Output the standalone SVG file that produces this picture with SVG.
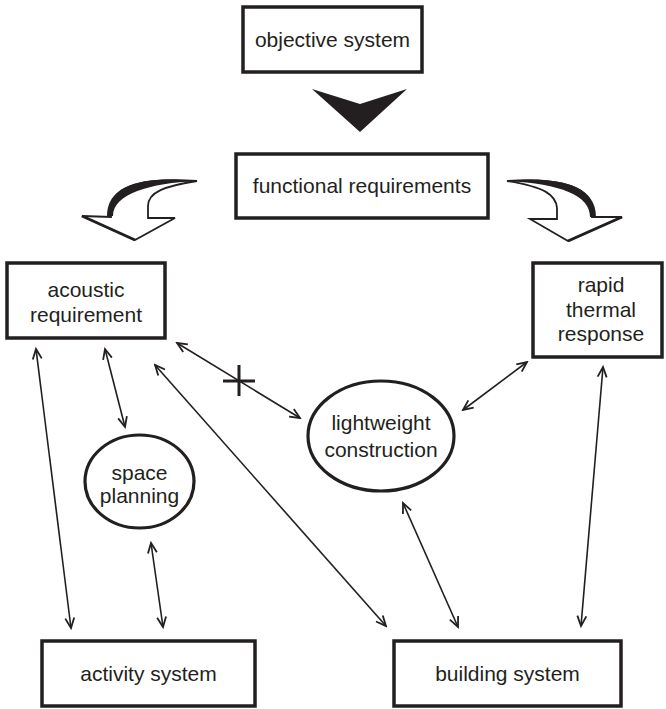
<svg xmlns="http://www.w3.org/2000/svg" width="666" height="709" viewBox="0 0 666 709">
<style>
.box{fill:#fff;stroke:#231f20;stroke-width:3.5}
.ell{fill:#fff;stroke:#231f20;stroke-width:3.2}
.t{font-family:"Liberation Sans",Arial,sans-serif;font-size:21px;fill:#231f20;text-anchor:middle}
.c{stroke:#231f20;stroke-width:1.6;fill:none;marker-start:url(#ah);marker-end:url(#ah)}
.big{fill:#fff;stroke:#231f20;stroke-width:1.8;stroke-linejoin:miter}
</style>
<defs>
<marker id="ah" markerUnits="userSpaceOnUse" markerWidth="14" markerHeight="12" viewBox="-12 -6 14 12" refX="0" refY="0" orient="auto-start-reverse">
<path d="M-10,-4.5 L0,0 L-10,4.5" fill="none" stroke="#231f20" stroke-width="1.8"/>
</marker>
</defs>
<rect width="666" height="709" fill="#fff"/>
<g id="big-arrows">
<polygon points="312,89 360,104 407,89 360,132" fill="#231f20"/>
<path class="big" d="M197,181 C150,178 111,183 111,210 L111,217 L82,216 L135,240 L175,218 L148,218 L148,206 C148,192 165,186 197,181 Z"/>
<path d="M197,181 C149,176 107,182 107,216 L113,216 C113,194 150,183 197,181 Z" fill="#231f20"/>
<path d="M82,216 L135,240" stroke="#231f20" stroke-width="3" fill="none"/>
<path class="big" d="M507,181 C545,178 592,182 592,210 L592,217 L622,217 L568,241 L530,219 L557,219 L557,208 C556,195 545,187 507,181 Z"/>
<path d="M507,181 C550,177 596,181 596,217 L590,217 C590,195 560,184 507,181 Z" fill="#231f20"/>
<path d="M568,241 L622,217" stroke="#231f20" stroke-width="3" fill="none"/>
</g>
<g id="connectors">
<line class="c" x1="36" y1="349" x2="71" y2="628"/>
<line class="c" x1="105" y1="349" x2="125" y2="427"/>
<line class="c" x1="151" y1="543" x2="163" y2="627"/>
<line class="c" x1="155" y1="365" x2="386" y2="626"/>
<line class="c" x1="177" y1="343" x2="300" y2="418"/>
<line class="c" x1="403" y1="503" x2="458" y2="627"/>
<line class="c" x1="603" y1="367" x2="581" y2="626"/>
<line class="c" x1="527" y1="362" x2="463" y2="410"/>
<path d="M223,381 H255 M239,365 V396" stroke="#231f20" stroke-width="3" fill="none"/>
</g>
<g id="objective-system">
<rect class="box" x="243" y="7" width="179" height="65"/>
<text class="t" x="332.5" y="47">objective system</text>
</g>
<g id="functional-requirements">
<rect class="box" x="236" y="154" width="252" height="64"/>
<text class="t" x="362" y="193">functional requirements</text>
</g>
<g id="acoustic-requirement">
<rect class="box" x="7" y="263" width="158" height="75"/>
<text class="t" x="86" y="297">acoustic</text>
<text class="t" x="86" y="322">requirement</text>
</g>
<g id="rapid-thermal-response">
<rect class="box" x="533" y="263" width="129" height="94"/>
<text class="t" x="601" y="292">rapid</text>
<text class="t" x="601" y="317">thermal</text>
<text class="t" x="601" y="341">response</text>
</g>
<g id="lightweight-construction">
<ellipse class="ell" cx="381" cy="436" rx="73" ry="55"/>
<text class="t" x="381" y="430">lightweight</text>
<text class="t" x="381" y="457">construction</text>
</g>
<g id="space-planning">
<ellipse class="ell" cx="139.5" cy="481.5" rx="54.5" ry="46.5"/>
<text class="t" x="139.5" y="480">space</text>
<text class="t" x="139.5" y="503">planning</text>
</g>
<g id="activity-system">
<rect class="box" x="42" y="641" width="213" height="65"/>
<text class="t" x="148.5" y="681">activity system</text>
</g>
<g id="building-system">
<rect class="box" x="394" y="641" width="227" height="65"/>
<text class="t" x="507.5" y="681">building system</text>
</g>
</svg>
